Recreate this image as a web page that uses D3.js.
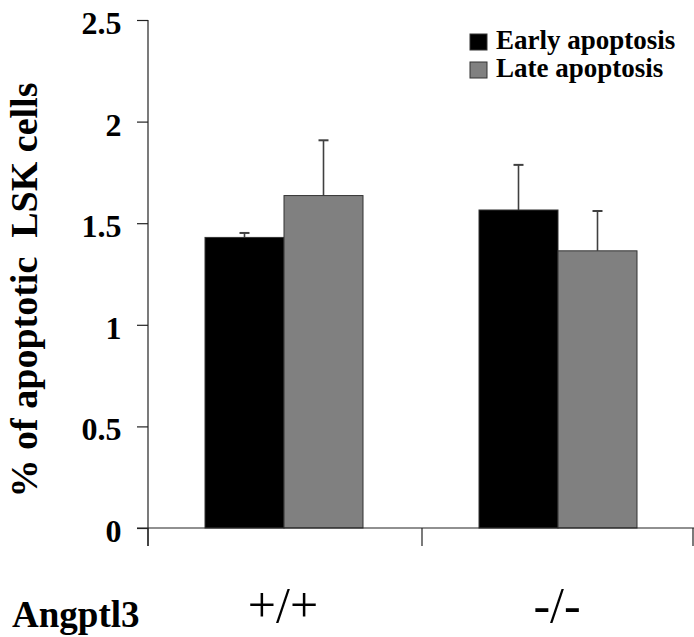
<!DOCTYPE html>
<html><head><meta charset="utf-8">
<script src="https://cdn.jsdelivr.net/npm/d3@7"></script>
<style>body{margin:0;background:#fff}svg{display:block}</style>
</head><body>
<script>
const categories = ["+/+", "-/-"];
const seriesNames = ["Early apoptosis", "Late apoptosis"];
const earlyValues = [1.43, 1.565];
const earlyErrors = [0.022, 0.222];
const lateValues = [1.636, 1.364];
const lateErrors = [0.272, 0.196];
const yTicks = [0, 0.5, 1, 1.5, 2, 2.5];
const groupLabel = "Angptl3";
const yTitle = "% of apoptotic\u00a0\u00a0LSK cells";

const W = 694, H = 637;
const colors = ["#000000", "#808080"];
const svg = d3.select("body").append("svg").attr("width", W).attr("height", H);

function serifText(sel) {
  return sel.attr("font-family", "Liberation Serif").style("font-family", '"Liberation Serif", "Times New Roman", serif');
}

const x = d3.scaleBand().domain(categories).range([147, 695]);
const xi = d3.scaleBand().domain(seriesNames).range([0, 158]);
const y = d3.scaleLinear().domain([0, 2.5]).range([528, 20]);

const rows = categories.map((c, i) => ({
  cat: c,
  vals: [
    {s: seriesNames[0], v: earlyValues[i], e: earlyErrors[i], k: 0},
    {s: seriesNames[1], v: lateValues[i], e: lateErrors[i], k: 1}
  ]
}));

const g = svg.selectAll("g.grp").data(rows).join("g").attr("class", "grp")
  .attr("transform", d => `translate(${x(d.cat) + x.bandwidth()/2 - 79},0)`);

g.selectAll("line.err").data(d => d.vals).join("line").attr("class", "err")
  .attr("x1", d => xi(d.s) + xi.bandwidth()/2).attr("x2", d => xi(d.s) + xi.bandwidth()/2)
  .attr("y1", d => y(d.v)).attr("y2", d => y(d.v + d.e))
  .attr("stroke", "#404040").attr("stroke-width", 1.6);
g.selectAll("line.cap").data(d => d.vals).join("line").attr("class", "cap")
  .attr("x1", d => xi(d.s) + xi.bandwidth()/2 - 5).attr("x2", d => xi(d.s) + xi.bandwidth()/2 + 5)
  .attr("y1", d => y(d.v + d.e)).attr("y2", d => y(d.v + d.e))
  .attr("stroke", "#404040").attr("stroke-width", 2);

g.selectAll("rect").data(d => d.vals).join("rect")
  .attr("x", d => xi(d.s)).attr("width", xi.bandwidth())
  .attr("y", d => y(d.v)).attr("height", d => y(0) - y(d.v))
  .attr("fill", d => colors[d.k]).attr("stroke", "#333").attr("stroke-width", 1);

const yAxis = svg.append("g").attr("transform", "translate(148,0)")
  .call(d3.axisLeft(y).tickValues(yTicks).tickSize(11).tickPadding(15.5).tickFormat(d => String(d)));
yAxis.attr("font-family", "Liberation Serif").attr("font-size", 32);
yAxis.select(".domain").remove();
yAxis.selectAll(".tick line").attr("stroke", "#222").attr("stroke-width", 1.2);
serifText(yAxis.selectAll("text")).attr("font-weight", "bold")
  .attr("font-size", 32).attr("fill", "#000").attr("dy", "0.42em");
svg.append("line").attr("x1", 148).attr("x2", 148).attr("y1", y(2.5)).attr("y2", 546)
  .attr("stroke", "#222").attr("stroke-width", 1.2);

svg.append("line").attr("x1", 137).attr("x2", W).attr("y1", y(0)).attr("y2", y(0))
  .attr("stroke", "#222").attr("stroke-width", 1.2);
const bounds = [148, x(categories[1]) + 1, W - 1];
svg.selectAll("line.div").data(bounds).join("line").attr("class", "div")
  .attr("x1", d => d).attr("x2", d => d).attr("y1", y(0)).attr("y2", 546)
  .attr("stroke", "#222").attr("stroke-width", 1.2);

serifText(svg.selectAll("text.cat").data(categories).join("text").attr("class", "cat"))
  .attr("x", d => x(d) + x.bandwidth()/2 - 1).attr("y", 622)
  .attr("text-anchor", "middle").attr("font-size", 50)
  .text(d => d);

serifText(svg.append("text")).attr("x", 12).attr("y", 627)
  .attr("font-weight", "bold").attr("font-size", 37).text(groupLabel);

serifText(svg.append("text")).attr("transform", "translate(37,290) rotate(-90)")
  .attr("text-anchor", "middle").attr("font-weight", "bold")
  .attr("font-size", 38).text(yTitle);

const lg = svg.append("g").selectAll("g").data(seriesNames).join("g")
  .attr("transform", (d, i) => `translate(470,${34 + i * 28})`);
lg.append("rect").attr("width", 17).attr("height", 16)
  .attr("fill", (d, i) => colors[i]).attr("stroke", "#333").attr("stroke-width", 1);
serifText(lg.append("text")).attr("x", 26).attr("y", 15)
  .attr("font-weight", "bold").attr("font-size", 27).text(d => d);
</script>
</body></html>
